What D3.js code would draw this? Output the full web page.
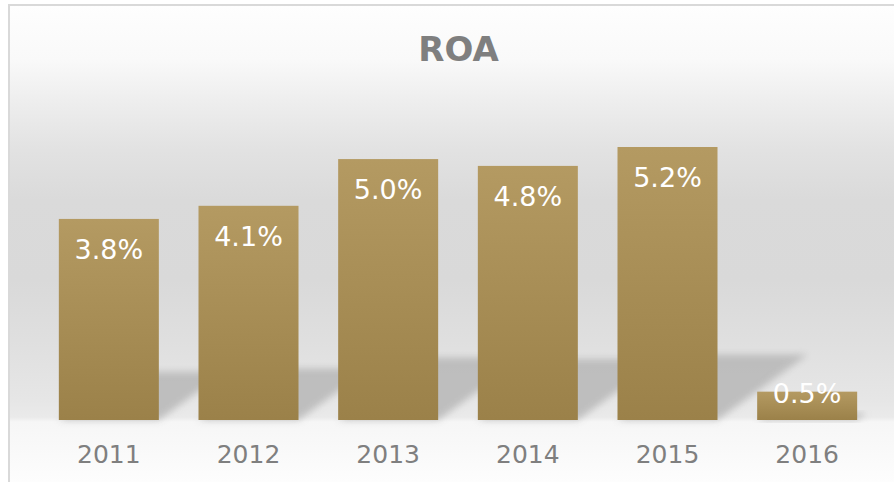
<!DOCTYPE html>
<html>
<head>
<meta charset="utf-8">
<script src="https://cdn.jsdelivr.net/npm/d3@7"></script>
<style>
  html, body { margin: 0; padding: 0; background: #fff; }
  svg { display: block; }
</style>
</head>
<body>
<script>
var width = 894;
var height = 482;

// data
var years = ["2011", "2012", "2013", "2014", "2015", "2016"];
var roa = [3.83, 4.08, 4.97, 4.84, 5.20, 0.54];
var title = "ROA";

var baseY = 420;
var fmt = d3.format(".1f");

var svg = d3.select("body")
  .append("svg")
  .attr("width", width)
  .attr("height", height);

var defs = svg.append("defs");

// chart area background, white on top, grey in the middle, light floor
var bg = defs.append("linearGradient")
  .attr("id", "bg")
  .attr("gradientUnits", "userSpaceOnUse")
  .attr("x1", 0).attr("y1", 5)
  .attr("x2", 0).attr("y2", height);
[[5, "#fefefe"], [60, "#f9f9f9"], [100, "#eeeeee"], [150, "#e2e2e2"],
 [200, "#dadada"], [280, "#d9d9d9"], [340, "#dfdfdf"], [400, "#e6e6e6"],
 [417, "#eaeaea"], [422, "#f6f6f6"], [482, "#fdfdfd"]]
  .forEach(function(s) {
    bg.append("stop")
      .attr("offset", (s[0] - 5) / (height - 5))
      .attr("stop-color", s[1]);
  });

var barGrad = defs.append("linearGradient")
  .attr("id", "bar")
  .attr("x1", 0).attr("y1", 0)
  .attr("x2", 0).attr("y2", 1);
barGrad.append("stop").attr("offset", 0).attr("stop-color", "#b49a62");
barGrad.append("stop").attr("offset", 1).attr("stop-color", "#9b8149");

defs.append("filter")
  .attr("id", "blur")
  .attr("x", "-20%").attr("y", "-40%")
  .attr("width", "140%").attr("height", "180%")
  .append("feGaussianBlur")
  .attr("stdDeviation", 3.5);

svg.append("rect")
  .attr("x", 9)
  .attr("y", 5)
  .attr("width", width + 20)
  .attr("height", height + 20)
  .style("fill", "url(#bg)")
  .style("stroke", "#d9d9d9")
  .style("stroke-width", 2);

var x = d3.scaleBand()
  .domain(years)
  .range([39, 877])
  .paddingInner(0.284)
  .paddingOuter(0.142);

var y = d3.scaleLinear()
  .domain([0, 6])
  .range([baseY, baseY - 6 * 52.5]);

var data = years.map(function(yr, i) { return { year: yr, value: roa[i] }; });

// skewed floor shadows behind the bars
svg.append("g")
  .selectAll("path")
  .data(data)
  .enter().append("path")
  .attr("d", function(d) {
    var x0 = x(d.year), x1 = x0 + x.bandwidth();
    var h = baseY - y(d.value);
    var sh = h * 0.24, s = h * 0.33;
    return "M" + [x0, baseY] + "L" + [x1, baseY] +
      "L" + [x1 + s, baseY - sh] + "L" + [x0 + s, baseY - sh] + "Z";
  })
  .style("fill", "#bababa")
  .style("opacity", 0.9)
  .attr("filter", "url(#blur)");

svg.append("g")
  .selectAll("rect")
  .data(data)
  .enter().append("rect")
  .attr("x", function(d) { return x(d.year); })
  .attr("y", function(d) { return y(d.value); })
  .attr("width", x.bandwidth())
  .attr("height", function(d) { return baseY - y(d.value); })
  .style("fill", "url(#bar)");

svg.append("g")
  .selectAll("text")
  .data(data)
  .enter().append("text")
  .attr("x", function(d) { return x(d.year) + x.bandwidth() / 2; })
  .attr("y", function(d) {
    var h = baseY - y(d.value);
    return h > 60 ? y(d.value) + 40 : y(d.value) + 11;
  })
  .style("text-anchor", "middle")
  .style("font-family", "'DejaVu Sans', Verdana, sans-serif")
  .style("font-size", "27px")
  .style("fill", "#ffffff")
  .text(function(d) { return fmt(d.value) + "%"; });

var xAxis = svg.append("g")
  .attr("transform", "translate(0," + baseY + ")")
  .call(d3.axisBottom(x).tickSize(0).tickPadding(25));
xAxis.select(".domain").remove();
xAxis.selectAll("text")
  .style("font-family", "'DejaVu Sans', Verdana, sans-serif")
  .style("font-size", "25px")
  .style("fill", "#7f7f7f");

svg.append("text")
  .attr("x", 458.5)
  .attr("y", 61)
  .style("text-anchor", "middle")
  .style("font-family", "'DejaVu Sans', Verdana, sans-serif")
  .style("font-weight", "bold")
  .style("font-size", "34px")
  .style("fill", "#7f7f7f")
  .text(title);
</script>
</body>
</html>
